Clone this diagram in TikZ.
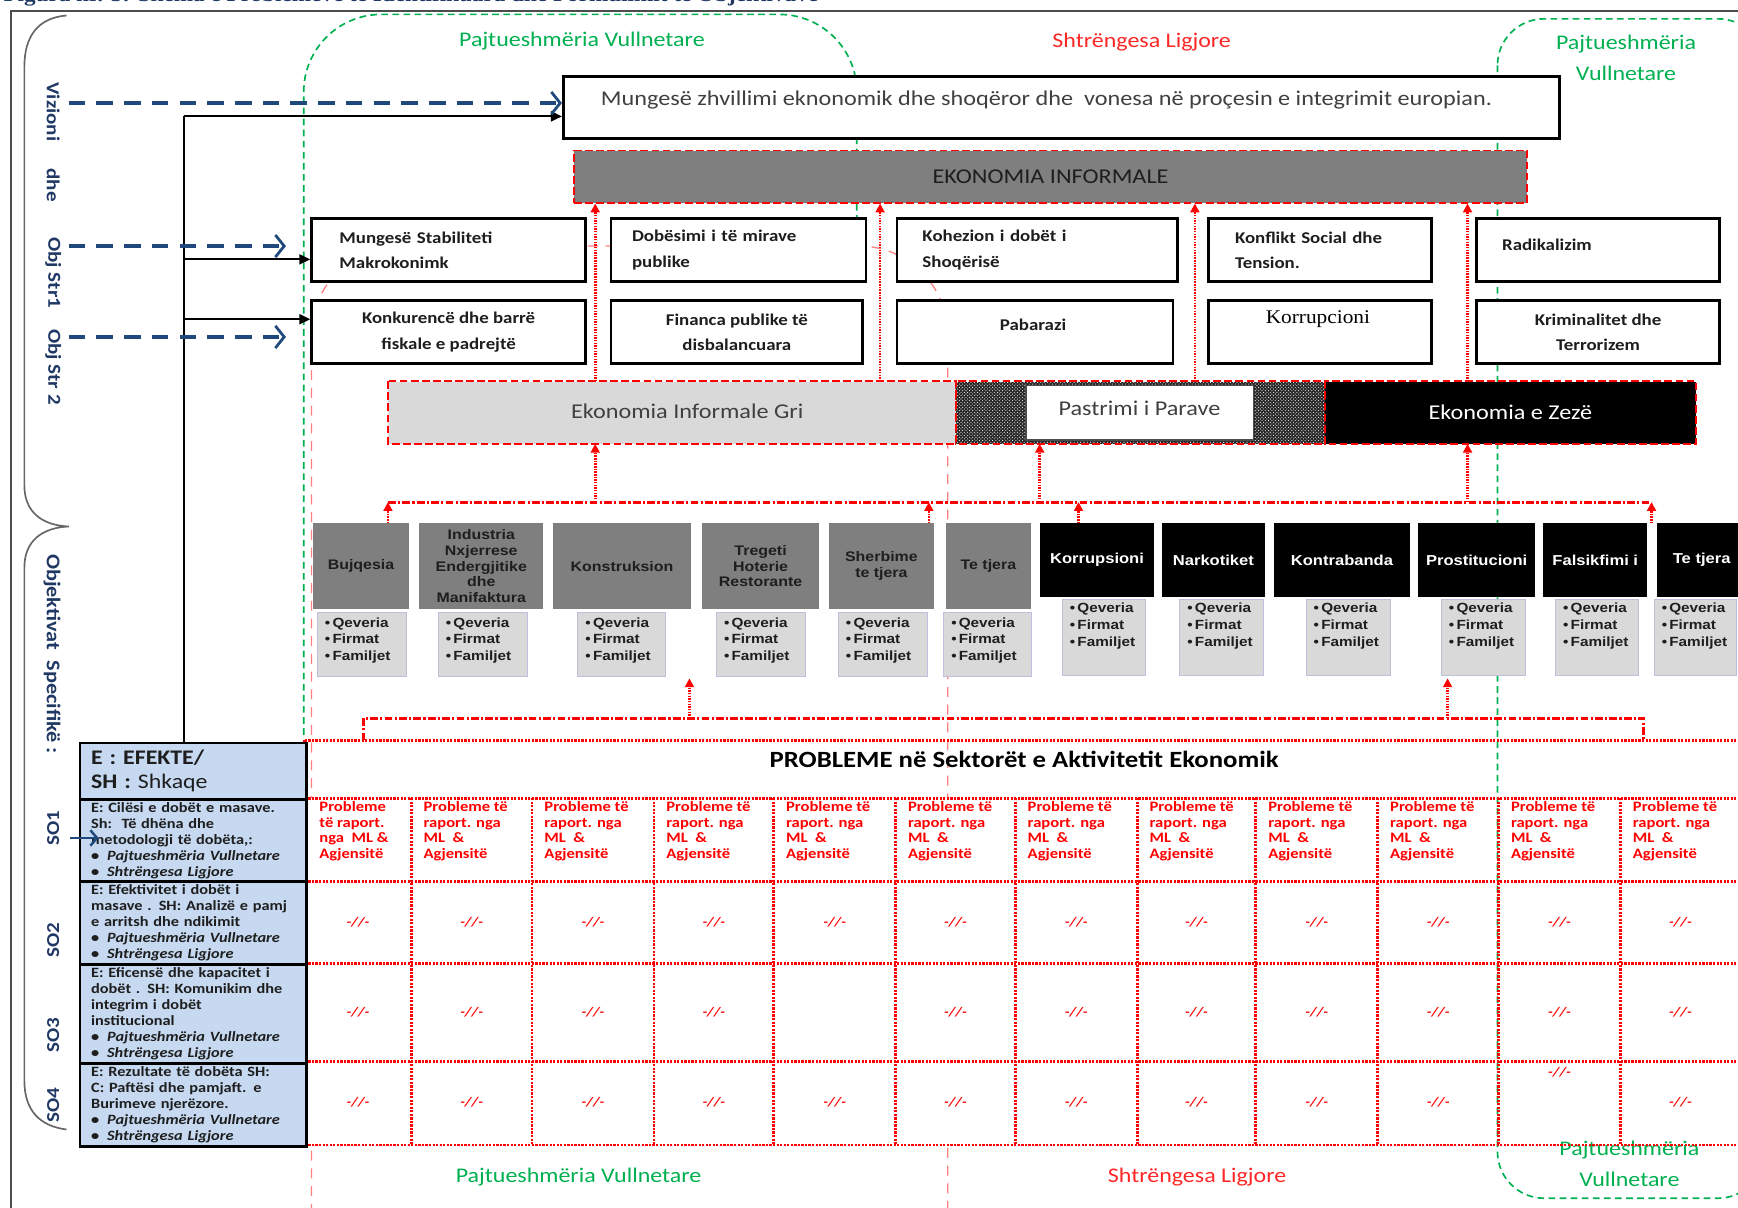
\documentclass[tikz,border=0pt]{standalone}
\usepackage{fontspec}
\setmainfont[FakeStretch=1.15]{Carlito}
\newfontfamily\arl[FakeStretch=1.15]{Liberation Sans}
\newfontfamily\tnr[FakeStretch=1.1]{Liberation Serif}
\usetikzlibrary{arrows.meta,patterns}
\definecolor{gfill}{HTML}{7F7F7F}
\definecolor{lgfill}{HTML}{D9D9D9}
\definecolor{bluefill}{HTML}{C6D9F1}
\definecolor{dblue}{HTML}{1F3864}
\definecolor{ablue}{HTML}{1F497D}
\definecolor{vgreen}{HTML}{00B050}
\definecolor{lred}{HTML}{FF0000}
\definecolor{dtext}{HTML}{1E1E1E}
\definecolor{btext}{HTML}{404040}
\tikzset{
  bx/.style={draw=black, line width=2.5pt, fill=white, anchor=north west, inner sep=0pt, text=dtext, font=\bfseries\fontsize{14.8}{23}\selectfont},
  bxt/.style={inner sep=0pt, text=dtext, font=\bfseries\fontsize{14.8}{23}\selectfont},
  rdash/.style={draw=lred, line width=1.6pt, dash pattern=on 7pt off 3pt},
  redup/.style={draw=lred, line width=2.4pt, dash pattern=on 1.3pt off 1.1pt, -{Triangle[length=8pt,width=8pt]}},
  rdashdot/.style={draw=lred, line width=2.5pt, dash pattern=on 7pt off 2pt on 2pt off 2pt},
  rgrid/.style={draw=lred, line width=2.6pt, dash pattern=on 2pt off 1.2pt},
  gline/.style={draw=vgreen, line width=1.5pt, dash pattern=on 6pt off 4pt},
  pline/.style={draw=lred!50, line width=1.2pt, dash pattern=on 9pt off 7pt},
  bdash/.style={draw=ablue, line width=3pt, dash pattern=on 15pt off 10pt, -{Straight Barb[length=8pt,width=20pt,line width=2.5pt]}},
  karrow/.style={draw=black, line width=2pt, -{Triangle[length=10pt,width=9pt]}},
  sect/.style={anchor=north west, fill=gfill, inner sep=0pt, text=dtext, align=center, font=\arl\bfseries\fontsize{12.5}{14.3}\selectfont},
  blk/.style={anchor=north west, fill=black, inner sep=0pt, text=white, align=center, font=\arl\bfseries\fontsize{13}{14.3}\selectfont},
  bul/.style={anchor=north west, fill=lgfill, draw=blue!12!lgfill, line width=0.8pt, inner sep=0pt},
  bult/.style={anchor=north west, inner sep=0pt, text=dtext, align=left, font=\arl\bfseries\fontsize{12}{15}\selectfont},
  lab/.style={inner sep=0pt, font=\fontsize{18.8}{28}\selectfont, align=center},
  vlab/.style={inner sep=0pt, text=dblue, font=\bfseries\fontsize{16.5}{18}\selectfont, rotate=-90},
  vlabb/.style={inner sep=0pt, text=dblue, font=\bfseries\fontsize{16.5}{18}\selectfont, rotate=90},
  eft/.style={anchor=north west, fill=bluefill, draw=black, line width=2.5pt, inner xsep=10pt, inner ysep=0pt, text width=184pt, align=left, text=dtext, font=\bfseries\fontsize{12.8}{14.5}\selectfont},
  rtxt/.style={anchor=west, inner sep=0pt, text=lred, align=left, font=\bfseries\fontsize{13}{14}\selectfont},
  dd/.style={inner sep=0pt, text=lred, font=\bfseries\itshape\fontsize{12}{14}\selectfont},
}
\begin{document}
\begin{tikzpicture}[x=1pt,y=-1pt]
\useasboundingbox (0,0) rectangle (1568,1089);
% title (cut by the page top, as in the reference)
\node[anchor=base west, inner sep=0pt, text=dblue, font=\tnr\bfseries\fontsize{19}{20}\selectfont] (title) at (3,1.5) {Figura nr. 3: Skema e Problemeve të Identifikuara dhe Formulimit të Objektivave};
% frame and brace
\draw[black!70, line width=1.6pt] (10,1100) -- (10,10) -- (1590,10);
\draw[black!60, line width=1.5pt] (60,14) .. controls (35,16) and (22,32) .. (22,60) -- (22,438) .. controls (22,462) and (38,474) .. (62,475) .. controls (38,476) and (22,488) .. (22,512) -- (22,975) .. controls (22,1002) and (36,1016) .. (60,1019);
% region outlines
\draw[pline, rounded corners=80pt] (281,1095) -- (281,222) -- (855,222) -- (855,1095);
\fill[white] (275,720) rectangle (1575,1033);
\draw[gline, rounded corners=70pt] (274,663) -- (274,13) -- (773,13) -- (773,200);
\draw[gline, rounded corners=42pt] (1351,17) rectangle (1592,1081);
% region labels
\node[lab, text=vgreen] (pv1) at (525,37) {Pajtueshmëria Vullnetare};
\node[lab, text=lred!85] (sl1) at (1030,38) {Shtrëngesa Ligjore};
\node[lab, text=vgreen] (pv2) at (1467,52) {Pajtueshmëria\\Vullnetare};
\node[lab, text=vgreen] (pv3) at (522,1062) {Pajtueshmëria Vullnetare};
\node[lab, text=lred!85] (sl2) at (1080,1062) {Shtrëngesa Ligjore};
\node[lab, text=vgreen] (pv4) at (1470,1050) {Pajtueshmëria\\Vullnetare};
% brace labels
\node[vlab] (v1) at (48,101) {Vizioni};
\node[vlab] (v2) at (48,167) {dhe};
\node[vlab] (v3) at (48,246) {Obj Str1};
\node[vlab] (v4) at (48,331) {Obj Str 2};
\node[vlab, font=\bfseries\fontsize{17.5}{18}\selectfont] (v5) at (47,590) {Objektivat\ \ Specifikë :};
\node[vlabb] (so1l) at (48,747) {SO1};
\node[vlabb] (so2l) at (48,848) {SO2};
\node[vlabb] (so3l) at (48,934) {SO3};
\node[vlabb] (so4l) at (48,997) {SO4};
% top box
\node[bx, minimum width=899pt, minimum height=56pt] (mz) at (507,68) {};
\node[anchor=west, inner sep=0pt, text=btext, font=\fontsize{19}{20}\selectfont] (mzt) at (542,90) {Mungesë zhvillimi eknonomik dhe shoqëror dhe\ \ vonesa në proçesin e integrimit europian.};
\node[anchor=north west, fill=gfill, rdash, inner sep=0pt, minimum width=860pt, minimum height=47pt, text=dtext, font=\fontsize{19}{20}\selectfont] (eko) at (517,135) {EKONOMIA INFORMALE};
% row 1
\node[bx, minimum width=247pt, minimum height=57pt, text width=197pt, inner xsep=25pt, align=left] (b1) at (280,196) {Mungesë Stabiliteti\\Makrokonimk};
\node[bx, minimum width=230pt, minimum height=57pt, text width=192pt, inner xsep=19pt, align=left] (b2) at (550,196) {Dobësimi i të mirave\\publike};
\node[bx, minimum width=253pt, minimum height=57pt, text width=207pt, inner xsep=23pt, align=left] (b3) at (808,196) {Kohezion i dobët i\\Shoqërisë};
\node[bx, minimum width=201pt, minimum height=57pt, text width=153pt, inner xsep=24pt, align=left] (b4) at (1089,196) {Konflikt Social dhe\\Tension.};
\node[bx, minimum width=219pt, minimum height=57pt] (b5) at (1331,196) {};
\node[bxt, anchor=west] (b5t) at (1355,221) {Radikalizim};
% row 2
\node[bx, minimum width=247pt, minimum height=57pt, align=center] (c1) at (280,270) {Konkurencë dhe barrë\\fiskale e padrejtë};
\node[bx, minimum width=227pt, minimum height=57pt, align=center] (c2) at (550,270) {Financa publike të\\disbalancuara};
\node[bx, minimum width=249pt, minimum height=57pt] (c3) at (808,270) {};
\node[bxt] (c3t) at (932,293) {Pabarazi};
\node[bx, minimum width=201pt, minimum height=57pt] (c4) at (1089,270) {};
\node[inner sep=0pt, text=black, font=\tnr\fontsize{17.5}{20}\selectfont] (c4t) at (1189,288) {Korrupcioni};
\node[bx, minimum width=219pt, minimum height=57pt, align=center] (c5) at (1331,270) {Kriminalitet dhe\\Terrorizem};
% economy row
\node[anchor=north west, fill=lgfill, inner sep=0pt, minimum width=512pt, minimum height=56pt] (gri) at (350,344) {};
\node[inner sep=0pt, text=btext, font=\fontsize{19}{20}\selectfont] (grit) at (620,371) {Ekonomia Informale Gri};
\node[anchor=north west, fill=black!85, inner sep=0pt, minimum width=333pt, minimum height=56pt] (hat) at (862,344) {};
\fill[pattern=crosshatch dots, pattern color=white] (hat.north west) rectangle (hat.south east);
\node[anchor=north west, draw=black!70, line width=1.5pt, fill=white, inner sep=0pt, minimum width=205pt, minimum height=49pt] (pas) at (925,347) {};
\node[inner sep=0pt, text=btext, font=\fontsize{19}{20}\selectfont] (past) at (1028,368) {Pastrimi i Parave};
\node[anchor=north west, fill=black, inner sep=0pt, minimum width=335pt, minimum height=56pt, text=white, font=\fontsize{19}{20}\selectfont] (zez) at (1195,344) {Ekonomia e Zezë};
\draw[rdash] (gri.north west) rectangle (gri.south east);
\draw[rdash] (hat.north west) rectangle (hat.south east);
\draw[rdash] (zez.north west) rectangle (zez.south east);
% arrows to EKONOMIA INFORMALE
\coordinate (xA) at (537,0);
\coordinate (xB) at (794,0);
\coordinate (xC) at (1078,0);
\coordinate (xD) at (1324,0);
\coordinate (xE) at (938,0);
\draw[redup] (gri.north -| xA) -- (eko.south -| xA);
\draw[redup] (gri.north -| xB) -- (eko.south -| xB);
\draw[redup] (hat.north -| xC) -- (eko.south -| xC);
\draw[redup] (zez.north -| xD) -- (eko.south -| xD);
% sector boxes
\foreach \nm/\xa/\w/\tx in {s1/282/87/Bujqesia, s2/378/112/{Industria\\Nxjerrese\\Endergjitike\\dhe\\Manifaktura}, s3/499/124/Konstruksion, s4/633/106/{Tregeti\\Hoterie\\Restorante}, s5/748/94/{Sherbime\\te tjera}, s6/853/77/Te tjera}
  \node[sect, minimum width=\w pt, minimum height=77pt] (\nm) at (\xa,472) {\tx};
\foreach \nm/\xa/\w/\tx in {k1/938/103/Korrupsioni, k2/1048/93/Narkotiket, k3/1149/123/Kontrabanda, k4/1279/106/Prostitucioni, k5/1392/94/Falsikfimi i, k6/1495/80/Te tjera}
  \node[blk, minimum width=\w pt, minimum height=66pt] (\nm) at (\xa,472) {\tx};
\foreach \nm/\xa/\w in {q1/286/80, q2/395/80, q3/521/79, q4/646/80, q5/756/80, q6/851/79}{
  \node[bul, minimum width=\w pt, minimum height=58pt] (\nm) at (\xa,552) {};
  \node[bult, xshift=7pt, yshift=-5pt] (\nm t) at (\nm.north west) {\textbullet\,Qeveria\\\textbullet\,Firmat\\\textbullet\,Familjet};
}
\foreach \nm/\xa/\w in {r1/958/75, r2/1064/75, r3/1178/76, r4/1300/76, r5/1403/75, r6/1492/74}{
  \node[bul, minimum width=\w pt, minimum height=69pt] (\nm) at (\xa,540) {};
  \node[bult, xshift=7pt, yshift=-4pt] (\nm t) at (\nm.north west) {\textbullet\,Qeveria\\\textbullet\,Firmat\\\textbullet\,Familjet};
}
% sector line and arrows
\coordinate (sA) at (350,453);
\coordinate (sB) at (1490,453);
\coordinate (xF) at (838,0);
\coordinate (xG) at (973,0);
\draw[rdashdot] (sA) -- (sB);
\draw[redup] (sA -| xA) -- (gri.south -| xA);
\draw[redup] (sA -| xE) -- (hat.south -| xE);
\draw[redup] (sA -| xD) -- (zez.south -| xD);
\draw[redup] (s1.north -| sA) -- (sA);
\draw[redup] (s5.north -| xF) -- (sA -| xF);
\draw[redup] (k1.north -| xG) -- (sA -| xG);
\draw[redup] (k6.north -| sB) -- (sB);
% problems table
\node[anchor=north west, inner sep=0pt, minimum width=1300pt, minimum height=52pt] (ph) at (275,668) {};
\node[inner sep=0pt, text=black, font=\bfseries\fontsize{21}{22}\selectfont] (pht) at (924,685) {PROBLEME në Sektorët e Aktivitetit Ekonomik};
\foreach \yy in {668,720,795,869,958,1033} \draw[rgrid] (275,\yy) -- (1575,\yy);
\draw[rgrid] (275,668) -- (275,1033);
\foreach \xx in {371,480,590,698,808,916,1026,1133,1243,1352,1462} \draw[rgrid] (\xx,720) -- (\xx,1033);
\node[rtxt] (p1) at (288,750) {Probleme\\të raport.\\nga\ \ ML \&\\Agjensitë};
\foreach \xx [count=\i from 2] in {371,480,590,698,808,916,1026,1133,1243,1352,1462}
  \node[rtxt] (p\i) at (\xx+11,750) {Probleme të\\raport. nga\\ML\ \ \&\\Agjensitë};
\foreach \cx [count=\i] in {323,425.5,535,644,753,862,971,1079.5,1188,1297.5,1407,1516}
  \node[dd] (dA\i) at (\cx,832) {-//-};
\foreach \cx [count=\i] in {323,425.5,535,644,862,971,1079.5,1188,1297.5,1407,1516}
  \node[dd] (dB\i) at (\cx,913) {-//-};
\foreach \cx [count=\i] in {323,425.5,535,644,753,862,971,1079.5,1188,1297.5,1516}
  \node[dd] (dC\i) at (\cx,994) {-//-};
\node[dd] (dC12) at (1407,967) {-//-};
% lower connector line
\coordinate (lA) at (328,648);
\coordinate (lB) at (1483,648);
\coordinate (up1) at (622,612);
\coordinate (up2) at (1306,612);
\draw[rdashdot] (ph.north -| lA) -- (lA) -- (lB) -- (ph.north -| lB);
\draw[redup] (lA -| up1) -- (up1);
\draw[redup] (lA -| up2) -- (up2);
% effects table
\node[eft, minimum height=51pt, font=\bfseries\fontsize{18.7}{22}\selectfont] (efh) at (71,669) {E : EFEKTE/\\SH : {\mdseries Shkaqe}};
\node[eft, minimum height=74pt] (so1r) at (71,720) {E: Cilësi e dobët e masave.\\Sh:\ \ Të dhëna dhe\\metodologji të dobëta,:\\\textbullet\hspace{7pt}\textit{Pajtueshmëria Vullnetare}\\\textbullet\hspace{7pt}\textit{Shtrëngesa Ligjore}};
\node[eft, minimum height=75pt] (so2r) at (71,794) {E: Efektivitet i dobët i\\masave . SH: Analizë e pamj\\e arritsh dhe ndikimit\\\textbullet\hspace{7pt}\textit{Pajtueshmëria Vullnetare}\\\textbullet\hspace{7pt}\textit{Shtrëngesa Ligjore}};
\node[eft, minimum height=89pt] (so3r) at (71,869) {E: Eficensë dhe kapacitet i\\dobët . SH: Komunikim dhe\\integrim i dobët\\institucional\\\textbullet\hspace{7pt}\textit{Pajtueshmëria Vullnetare}\\\textbullet\hspace{7pt}\textit{Shtrëngesa Ligjore}};
\node[eft, minimum height=75pt] (so4r) at (71,958) {E: Rezultate të dobëta SH:\\C: Paftësi dhe pamjaft. e\\Burimeve njerëzore.\\\textbullet\hspace{7pt}\textit{Pajtueshmëria Vullnetare}\\\textbullet\hspace{7pt}\textit{Shtrëngesa Ligjore}};
% black connectors
\coordinate (k105) at (166,105);
\coordinate (k234) at (166,234);
\coordinate (k288) at (166,288);
\draw[black, line width=2pt] (efh.north -| k105) -- (k105);
\draw[karrow] (k105) -- (mz.west |- k105);
\draw[karrow] (k234) -- (b1.west |- k234);
\draw[karrow] (k288) -- (c1.west |- k288);
% blue dashed arrows
\coordinate (bz1) at (62,93);
\coordinate (bz2) at (62,222);
\coordinate (bz2e) at (258,222);
\coordinate (bz3) at (62,304);
\coordinate (bz3e) at (258,304);
\draw[bdash] (bz1) -- (mz.west |- bz1);
\draw[bdash] (bz2) -- (bz2e);
\draw[bdash] (bz3) -- (bz3e);
\coordinate (sa1) at (63,756);
\coordinate (sa2) at (89,756);
\draw[draw=ablue, line width=2.5pt, -{Straight Barb[length=6pt,width=14pt,line width=2.2pt]}] (sa1) -- (sa2);
\end{tikzpicture}
\end{document}
